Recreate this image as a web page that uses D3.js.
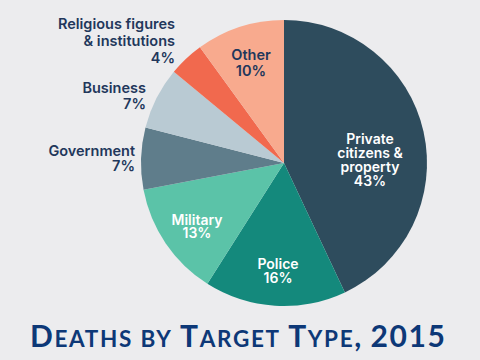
<!DOCTYPE html>
<html><head><meta charset="utf-8">
<script src="https://cdn.jsdelivr.net/npm/d3@7"></script>
<style>html,body{margin:0;padding:0;background:#ececee;}svg{display:block;}</style>
</head><body>
<svg id="c" width="480" height="360"></svg>
<script>
const categories = ["Private citizens & property","Police","Military","Government","Business","Religious figures & institutions","Other"];
const values = [43,16,13,7,7,4,10];
const colors = ["#2e4c5d","#14897c","#5bc3a8","#5f7d8b","#b9cad3","#f1694e","#f8aa8e"];
const labelLines = [["Private","citizens &","property","43%"],["Police","16%"],["Military","13%"],["Government","7%"],["Business","7%"],["Religious figures","& institutions","4%"],["Other","10%"]];
const titleText = "Deaths by Target Type, 2015";

const svg = d3.select("#c");
svg.append("rect").attr("width",480).attr("height",360).attr("fill","#ececee");
const cx = 284, cy = 163, r = 143;
const g = svg.append("g").attr("transform",`translate(${cx},${cy})`);
const pie = d3.pie().sort(null).value(d=>d)(values);
const arc = d3.arc().innerRadius(0).outerRadius(r);
g.selectAll("path").data(pie).enter().append("path")
  .attr("d",arc).attr("fill",(d,i)=>colors[i]);

// label layout (absolute positions, first-line center y, anchor, fill)
const layout = [
  {x:370,y:138,a:"middle",f:"#ffffff",lh:14.3},
  {x:278,y:263,a:"middle",f:"#ffffff",lh:14.5},
  {x:197,y:219,a:"middle",f:"#ffffff",lh:13.5},
  {x:135,y:150,a:"end",f:"#22375b",lh:15.5},
  {x:146,y:87,a:"end",f:"#22375b",lh:16},
  {x:175,y:23,a:"end",f:"#22375b",lh:17},
  {x:251,y:54,a:"middle",f:"#22375b",lh:16}
];
labelLines.forEach((lines,i)=>{
  const L = layout[i];
  lines.forEach((s,j)=>{
    svg.append("text").attr("text-anchor",L.a).attr("fill",L.f)
      .attr("font-family","Inter, 'Open Sans', sans-serif").attr("font-weight",600)
      .attr("font-size",i<3?14:14.5).attr("dominant-baseline","central")
      .attr("x",L.x).attr("y",L.y+j*L.lh).text(s);
  });
});

// title with small caps
const title = svg.append("text").attr("x",30).attr("y",347)
  .attr("fill","#0d3877").attr("font-family","Lato, 'Open Sans', sans-serif").attr("font-weight",700);
titleText.split(/(\s+)/).forEach(w=>{
  if (!w.trim()) { title.append("tspan").attr("font-size",24).text(" "); return; }
  let cur = null, big = null;
  for (const ch of w) {
    const isBig = !(/[a-z]/.test(ch));
    if (cur === null || isBig !== big) {
      cur = title.append("tspan").attr("font-size", isBig ? 30 : 22.5).text("");
      big = isBig;
    }
    cur.text(cur.text() + (isBig ? ch : ch.toUpperCase()));
  }
});
const tw = title.node().getComputedTextLength();
const nChars = titleText.length;
const extra = (415 - tw) / (nChars - 1);
title.attr("letter-spacing", extra);
</script>
</body></html>
